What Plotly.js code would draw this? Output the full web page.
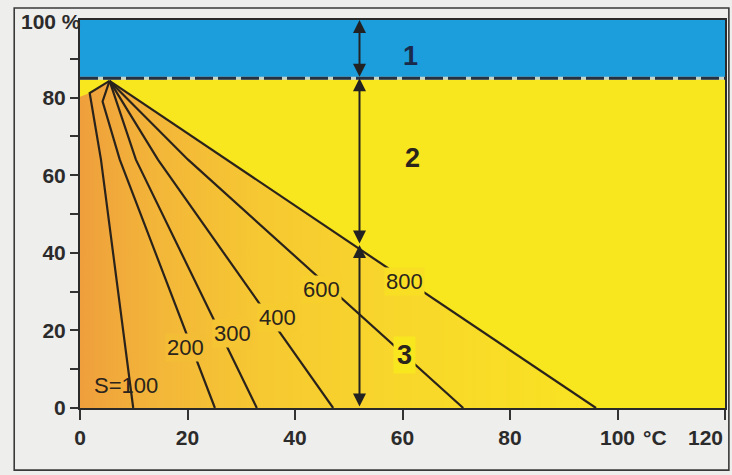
<!DOCTYPE html>
<html>
<head>
<meta charset="utf-8">
<script src="https://cdn.plot.ly/plotly-3.0.1.min.js"></script>
<style>
  html, body { margin: 0; padding: 0; background: #eeeeec; }
  #chart { width: 732px; height: 475px; }
</style>
</head>
<body>
<div id="chart"></div>
<script>
// ---- data ----
const sLabels = ['S=100', '200', '300', '400', '600', '800'];
// each S-line as x (°C) and y (%) points, from the apex down to the x axis
const line100X = [5.5, 1.8, 3.9, 9.9];
const line100Y = [84.3, 81.2, 64, 0];
const line200X = [5.5, 4.2, 7.4, 25.1];
const line200Y = [84.3, 79, 64, 0];
const line300X = [5.5, 10.4, 32.9];
const line300Y = [84.3, 64, 0];
const line400X = [5.5, 14.5, 47.1];
const line400Y = [84.3, 64, 0];
const line600X = [5.5, 20.1, 71.3];
const line600Y = [84.3, 64, 0];
const line800X = [5.5, 96.0];
const line800Y = [84.3, 0];
// top boundary of the S-fan along the y axis
const fanEdgeX = [0, 1.8, 5.5];
const fanEdgeY = [80.2, 81.2, 84.3];
// zones
const zoneTop = 100;      // upper limit (%)
const zoneBlue = 85;      // limit between zone 1 and 2 (%)
const zoneSplit = 42;     // limit between zone 2 and 3 at the arrow (%)
const arrowX = 52;        // °C position of the zone arrow
const xMax = 120;
const zoneNames = ['1', '2', '3'];
const zoneLabelX = [61.4, 61.8, 60.3];
const zoneLabelY = [90.8, 64.5, 13.7];
// label positions for S lines
const sLabelX = [8.6, 19.7, 28.3, 36.8, 45.0, 60.3];
const sLabelY = [5.9, 15.7, 19.1, 23.2, 30.5, 32.5];
const xTicks = [0, 20, 40, 60, 80, 100, 120];
const xTickText = ['0', '20', '40', '60', '80', '100', ''];
const xLastTick = '120';
const yTicks = [0, 20, 40, 60, 80];
const yTickText = ['0', '20', '40', '60', '80'];

// ---- build ----
const lineXs = [line100X, line200X, line300X, line400X, line600X, line800X];
const lineYs = [line100Y, line200Y, line300Y, line400Y, line600Y, line800Y];

// fan polygon: origin -> up the y axis -> edge -> apex -> along 800 line -> back
const fanX = [0].concat(fanEdgeX, line800X.slice(1), [0]);
const fanY = [0].concat(fanEdgeY, line800Y.slice(1), [0]);

const traces = [];
traces.push({
  x: fanX, y: fanY, mode: 'lines', fill: 'toself',
  line: { width: 0, color: 'rgba(0,0,0,0)' },
  fillcolor: '#f5c232',
  fillgradient: {
    type: 'horizontal',
    colorscale: [[0, '#ef9f3c'], [0.15, '#f3b639'], [0.35, '#f6c832'], [0.6, '#f8d62b'], [1, '#f9e322']]
  },
  hoverinfo: 'skip', showlegend: false
});
for (let i = 0; i < lineXs.length; i++) {
  traces.push({
    x: lineXs[i], y: lineYs[i], mode: 'lines',
    line: { color: '#2a231c', width: 2.2 },
    hoverinfo: 'skip', showlegend: false
  });
}

const lblFont = { family: 'Liberation Sans, Arial, sans-serif', size: 22, color: '#2a241c' };
const tickFont = { family: 'Liberation Sans, Arial, sans-serif', size: 21, color: '#2b2b2b', weight: 'bold' };
const sBg = ['rgba(0,0,0,0)', '#f4bd36', '#f5c533', '#f6cb30', '#f7d02d', '#f8df24'];

const annotations = [];
for (let i = 0; i < sLabels.length; i++) {
  annotations.push({
    x: sLabelX[i], y: sLabelY[i], xref: 'x', yref: 'y', text: sLabels[i],
    showarrow: false, font: lblFont, bgcolor: sBg[i], borderpad: 1
  });
}
const zoneColors = ['#1a2a4a', '#2a241c', '#2a241c'];
const zoneBg = ['rgba(0,0,0,0)', 'rgba(0,0,0,0)', '#f8e61e'];
for (let i = 0; i < zoneNames.length; i++) {
  annotations.push({
    x: zoneLabelX[i], y: zoneLabelY[i], xref: 'x', yref: 'y', text: '<b>' + zoneNames[i] + '</b>',
    showarrow: false, bgcolor: zoneBg[i], borderpad: 3,
    font: { family: 'Liberation Sans, Arial, sans-serif', size: 27, color: zoneColors[i] }
  });
}
// double-headed arrows for the zones
const arrowStops = [zoneTop, zoneBlue, zoneSplit, 0];
for (let i = 0; i < arrowStops.length - 1; i++) {
  annotations.push({
    x: arrowX, y: arrowStops[i], ax: arrowX, ay: arrowStops[i + 1],
    xref: 'x', yref: 'y', axref: 'x', ayref: 'y', text: '',
    showarrow: true, arrowside: 'end+start', arrowhead: 2, startarrowhead: 2,
    arrowsize: 1.3, startarrowsize: 1.3, arrowwidth: 2, arrowcolor: '#222',
    standoff: 0, startstandoff: 0
  });
}
annotations.push({
  x: 0.005, y: 0.995, xref: 'paper', yref: 'paper', text: '<b>100 %</b>',
  xanchor: 'right', yanchor: 'middle', showarrow: false,
  font: { family: 'Liberation Sans, Arial, sans-serif', size: 21, color: '#2b2b2b' }
});
annotations.push({
  x: 107, y: -0.075, xref: 'x', yref: 'paper', text: '<b>°C</b>',
  xanchor: 'center', yanchor: 'middle', showarrow: false,
  font: { family: 'Liberation Sans, Arial, sans-serif', size: 21, color: '#2b2b2b' }
});
annotations.push({
  x: xMax, y: -0.075, xref: 'x', yref: 'paper', text: '<b>' + xLastTick + '</b>',
  xanchor: 'right', yanchor: 'middle', showarrow: false,
  font: { family: 'Liberation Sans, Arial, sans-serif', size: 21, color: '#2b2b2b' }
});

const shapes = [
  { type: 'rect', xref: 'x', yref: 'y', x0: 0, x1: xMax, y0: 0, y1: zoneBlue,
    fillcolor: '#f8e61e', line: { width: 0 }, layer: 'below' },
  { type: 'rect', xref: 'x', yref: 'y', x0: 0, x1: xMax, y0: zoneBlue, y1: zoneTop,
    fillcolor: '#1c9ddc', line: { width: 0 }, layer: 'below' },
  { type: 'line', xref: 'x', yref: 'y', x0: 0, x1: xMax, y0: zoneBlue, y1: zoneBlue,
    line: { color: '#c9d2c8', width: 3 }, layer: 'above' },
  { type: 'line', xref: 'x', yref: 'y', x0: 0, x1: xMax, y0: zoneBlue, y1: zoneBlue,
    line: { color: '#253040', width: 3, dash: '18px,5px' }, layer: 'above' },
  // outer frame of the scanned figure
  { type: 'rect', xref: 'paper', yref: 'paper', x0: -0.102, x1: 1.006, y0: -0.16, y1: 1.031,
    line: { color: '#3a3a3a', width: 1.6 }, fillcolor: 'rgba(0,0,0,0)', layer: 'above' }
];

const layout = {
  width: 732, height: 475,
  margin: { l: 80, r: 7, t: 20, b: 67 },
  paper_bgcolor: '#eeeeec', plot_bgcolor: '#eeeeec',
  showlegend: false,
  xaxis: {
    range: [0, xMax], tickvals: xTicks, ticktext: xTickText,
    ticks: 'outside', ticklen: 10, tickwidth: 2, tickcolor: '#333',
    showgrid: false, zeroline: false, showline: true, mirror: true,
    linecolor: '#2a2a2a', linewidth: 2, tickfont: tickFont
  },
  yaxis: {
    range: [0, zoneTop], tickvals: yTicks, ticktext: yTickText,
    ticks: 'outside', ticklen: 8, tickwidth: 2, tickcolor: '#333',
    minor: { tickvals: [10, 30, 50, 70, 90], ticks: 'outside', ticklen: 8, tickwidth: 2, tickcolor: '#333', showgrid: false },
    showgrid: false, zeroline: false, showline: true, mirror: true,
    linecolor: '#2a2a2a', linewidth: 2, tickfont: tickFont
  },
  shapes: shapes,
  annotations: annotations
};

Plotly.newPlot('chart', traces, layout, { staticPlot: true, displayModeBar: false });
</script>
</body>
</html>
